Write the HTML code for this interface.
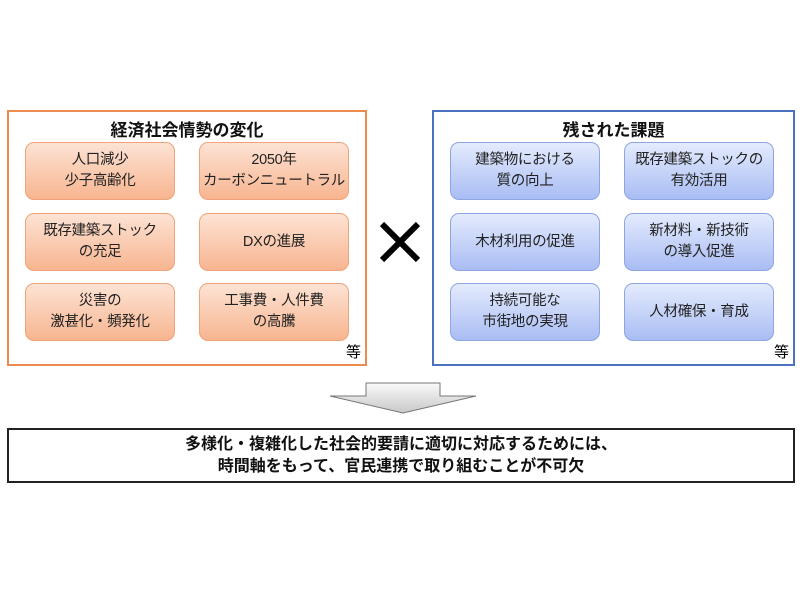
<!DOCTYPE html>
<html><head><meta charset="utf-8"><style>
body{margin:0;width:800px;height:600px;background:#fff;position:relative;font-family:"Liberation Sans","Noto Sans CJK JP",sans-serif;overflow:hidden}
.frame{position:absolute;top:110px;height:256px;box-sizing:border-box;border:2px solid}
.title{position:absolute;top:4px;left:0;right:0;text-align:center;font-weight:bold;font-size:17px;color:#111}
.b{position:absolute;width:150px;height:58px;box-sizing:border-box;border-radius:9px;display:flex;align-items:center;justify-content:center;text-align:center;font-size:14.5px;line-height:21px;color:#222;letter-spacing:-0.3px}
.o{background:linear-gradient(#fde3d4,#f7b590);border:1px solid #f0a37a}
.u{background:linear-gradient(#e4ebfd,#a9bdf4);border:1px solid #8ea6e0}
.eq{position:absolute;right:4px;bottom:2px;font-size:15px}
</style></head><body>
<div class="frame" style="left:7px;width:360px;border-color:#ed8a4e">
<div class="title">経済社会情勢の変化</div>
<div class="b o" style="left:16px;top:30px">人口減少<br>少子高齢化</div>
<div class="b o" style="left:190px;top:30px">2050年<br>カーボンニュートラル</div>
<div class="b o" style="left:16px;top:101px">既存建築ストック<br>の充足</div>
<div class="b o" style="left:190px;top:101px">DXの進展</div>
<div class="b o" style="left:16px;top:171px">災害の<br>激甚化・頻発化</div>
<div class="b o" style="left:190px;top:171px">工事費・人件費<br>の高騰</div>
<div class="eq">等</div>
</div>
<svg style="position:absolute;left:378px;top:220px" width="44" height="44"><path d="M4 4L40 40M40 4L4 40" stroke="#000" stroke-width="6"/></svg>
<div class="frame" style="left:432px;width:363px;border-color:#4a72c0">
<div class="title">残された課題</div>
<div class="b u" style="left:16px;top:30px">建築物における<br>質の向上</div>
<div class="b u" style="left:190px;top:30px">既存建築ストックの<br>有効活用</div>
<div class="b u" style="left:16px;top:101px">木材利用の促進</div>
<div class="b u" style="left:190px;top:101px">新材料・新技術<br>の導入促進</div>
<div class="b u" style="left:16px;top:171px">持続可能な<br>市街地の実現</div>
<div class="b u" style="left:190px;top:171px">人材確保・育成</div>
<div class="eq">等</div>
</div>
<svg style="position:absolute;left:0;top:0" width="800" height="600"><defs><linearGradient id="g" x1="0" y1="0" x2="0" y2="1"><stop offset="0" stop-color="#fafafa"/><stop offset="1" stop-color="#c8c8c8"/></linearGradient></defs>
<path d="M366 383H440V396H476L403 413L330 396H366Z" fill="url(#g)" stroke="#777" stroke-width="1"/></svg>
<div style="position:absolute;left:7px;top:428px;width:788px;height:55px;box-sizing:border-box;border:2px solid #222;text-align:center;font-weight:bold;font-size:16px;line-height:22px;padding-top:4px;color:#111">多様化・複雑化した社会的要請に適切に対応するためには、<br>時間軸をもって、官民連携で取り組むことが不可欠</div>
</body></html>
